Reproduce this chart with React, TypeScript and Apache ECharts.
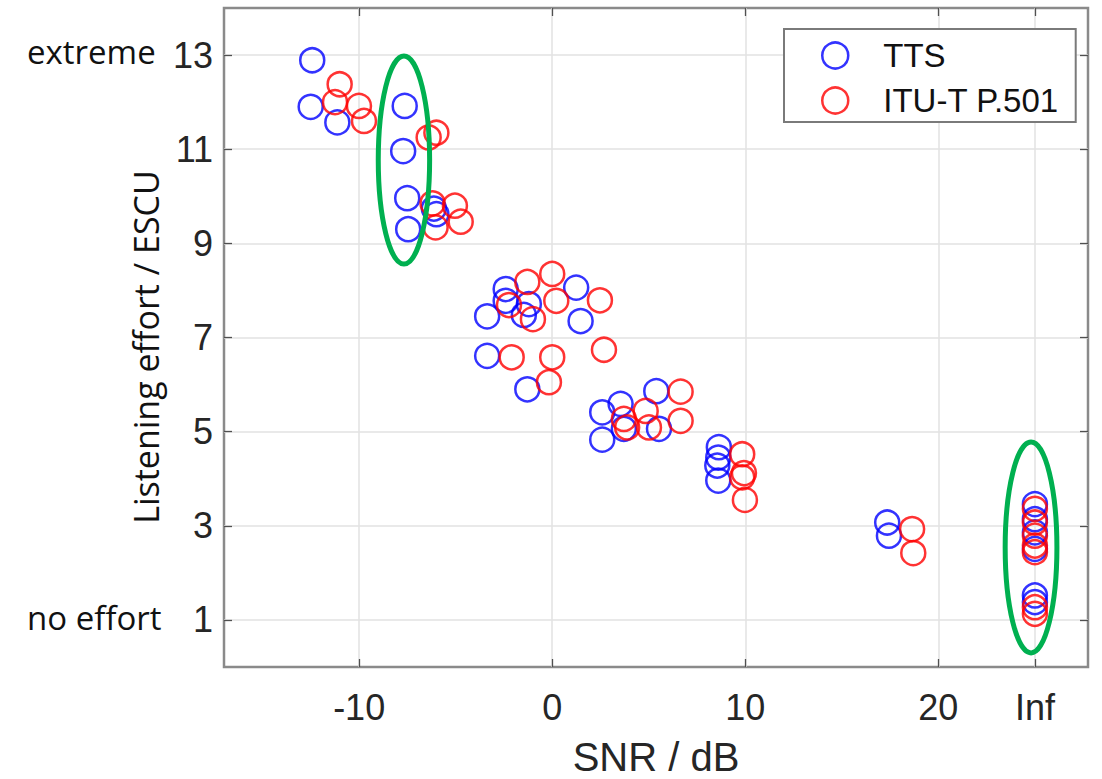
import React, { useEffect, useRef } from 'react';
import * as echarts from 'echarts';

// ---- data ----
const seriesNames = ['TTS', 'ITU-T P.501'];

const ttsSnr = [
  -12.43, -12.51, -11.13, -7.64, -7.72, -7.51, -7.46, -6.13, -6.0,
  -2.41, -3.37, -1.21, -1.47, -2.41, 1.24, 1.47, -3.37, -1.29,
  2.59, 3.54, 5.39, 2.59, 3.71, 5.53,
  8.63, 8.6, 8.55, 8.6,
  17.35, 17.44,
  25, 25, 25, 25, 25, 25,
];
const ttsEffort = [
  12.89, 11.9, 11.57, 11.92, 10.96, 9.96, 9.3, 9.74, 9.62,
  8.03, 7.45, 7.71, 7.48, 7.78, 8.06, 7.35, 6.61, 5.9,
  5.41, 5.59, 5.86, 4.83, 5.06, 5.06,
  4.67, 4.45, 4.28, 3.96,
  3.07, 2.79,
  3.46, 3.14, 2.86, 2.51, 1.52, 1.38,
];

const p501Snr = [
  -11.01, -11.25, -10.01, -9.75, -6.4, -6.0, -6.2, -5.04, -6.04, -4.74,
  -1.29, 0.0, -2.24, -1.0, 0.21, 2.47, -2.1, 0.0, -0.17, 2.68,
  3.71, 4.84, 6.65, 3.88, 5.01, 6.65,
  9.84, 9.93, 9.84, 9.98,
  18.64, 18.7,
  25, 25, 25, 25, 25, 25, 25,
];
const p501Effort = [
  12.38, 12.0, 11.92, 11.6, 11.25, 11.35, 9.85, 9.8, 9.34, 9.46,
  8.18, 8.35, 7.69, 7.39, 7.78, 7.79, 6.58, 6.58, 6.05, 6.74,
  5.27, 5.44, 5.85, 5.09, 5.09, 5.23,
  4.52, 4.12, 4.03, 3.55,
  2.93, 2.42,
  3.36, 3.07, 2.79, 2.58, 2.44, 1.27, 1.13,
];

const xTickValues = [-10, 0, 10, 20, 25];
const xTickLabels = ['-10', '0', '10', '20', 'Inf'];
const yTickValues = [1, 3, 5, 7, 9, 11, 13];

// highlight ellipses (centre and half-axes in data units)
const ellipseSnr = [-7.68, 24.8];
const ellipseEffort = [10.77, 2.54];
const ellipseHalfWidth = [1.33, 1.34];
const ellipseHalfHeight = [2.21, 2.24];

const scaleLabels = ['extreme', 'no effort'];
const yTitle = 'Listening effort / ESCU';

const X_MIN = -17;
const X_MAX = 27.75;
const Y_MIN = 0;
const Y_MAX = 14;

export default function App() {
  const ref = useRef<HTMLDivElement>(null);

  useEffect(() => {
    if (!ref.current) return;
    const chart = echarts.init(ref.current, null, { renderer: 'svg' });

    const tickFont = 'Liberation Sans, Arial, Helvetica, sans-serif';
    const labelFont = 'Open Sans, Noto Sans, sans-serif';
    const textColor = '#262626';
    const tickStyle = { color: '#505050', width: 1.3 };

    const option: any = {
      animation: false,
      backgroundColor: '#ffffff',
      grid: {
        left: 224,
        right: 14,
        top: 8,
        bottom: 112,
        show: true,
        outerBoundsMode: 'none',
        containLabel: false,
        borderColor: '#8a8a8a',
        borderWidth: 2.5,
        backgroundColor: 'transparent',
      },
      legend: {
        orient: 'vertical',
        left: 784,
        top: 29,
        padding: [10, 17, 5, 37],
        itemWidth: 26,
        itemHeight: 26,
        itemGap: 12,
        borderColor: '#7a7a7a',
        borderWidth: 2,
        backgroundColor: '#ffffff',
        textStyle: {
          fontFamily: tickFont,
          fontSize: 33,
          color: '#111111',
          padding: [0, 0, 0, 30],
        },
        data: [
          {
            name: seriesNames[0],
            icon: 'circle',
            itemStyle: { color: 'transparent', borderColor: '#0000ff', borderWidth: 2.5 },
          },
          {
            name: seriesNames[1],
            icon: 'circle',
            itemStyle: { color: 'transparent', borderColor: '#ff0000', borderWidth: 2.5 },
          },
        ],
      },
      xAxis: [
        {
          type: 'value',
          min: X_MIN,
          max: X_MAX,
          name: 'SNR / dB',
          nameLocation: 'middle',
          nameGap: 70,
          nameTextStyle: { fontFamily: tickFont, fontSize: 40, color: textColor },
          axisLine: { show: false, onZero: false },
          axisTick: {
            show: true,
            inside: true,
            length: 8,
            customValues: xTickValues,
            lineStyle: tickStyle,
          },
          axisLabel: {
            show: true,
            customValues: xTickValues,
            margin: 22,
            fontFamily: tickFont,
            fontSize: 36,
            color: textColor,
            formatter: (v: number) => {
              const i = xTickValues.indexOf(v);
              return i >= 0 ? xTickLabels[i] : '';
            },
          },
          splitLine: { show: true, lineStyle: { color: '#e2e2e2', width: 1.5 } },
        },
        {
          type: 'value',
          position: 'top',
          min: X_MIN,
          max: X_MAX,
          axisLine: { show: false, onZero: false },
          axisTick: {
            show: true,
            inside: true,
            length: 8,
            customValues: xTickValues,
            lineStyle: tickStyle,
          },
          axisLabel: { show: false },
          splitLine: { show: false },
        },
      ],
      yAxis: [
        {
          type: 'value',
          min: Y_MIN,
          max: Y_MAX,
          axisLine: { show: false, onZero: false },
          axisTick: {
            show: true,
            inside: true,
            length: 8,
            customValues: yTickValues,
            lineStyle: tickStyle,
          },
          axisLabel: {
            show: true,
            customValues: yTickValues,
            margin: 11,
            fontFamily: tickFont,
            fontSize: 36,
            color: textColor,
          },
          splitLine: { show: true, lineStyle: { color: '#e2e2e2', width: 1.5 } },
        },
        {
          type: 'value',
          position: 'right',
          min: Y_MIN,
          max: Y_MAX,
          axisLine: { show: false, onZero: false },
          axisTick: {
            show: true,
            inside: true,
            length: 8,
            customValues: yTickValues,
            lineStyle: tickStyle,
          },
          axisLabel: { show: false },
          splitLine: { show: false },
        },
      ],
      graphic: [
        {
          type: 'text',
          left: 27,
          top: 35,
          style: {
            text: scaleLabels[0],
            fontFamily: labelFont,
            fontSize: 33,
            fill: '#111111',
          },
        },
        {
          type: 'text',
          left: 27,
          top: 601,
          style: {
            text: scaleLabels[1],
            fontFamily: labelFont,
            fontSize: 33,
            fill: '#111111',
          },
        },
        {
          type: 'text',
          x: 146,
          y: 347,
          rotation: Math.PI / 2,
          style: {
            text: yTitle,
            fontFamily: labelFont,
            fontSize: 34,
            fill: '#111111',
            align: 'center',
            verticalAlign: 'middle',
          },
        },
      ],
      series: [
        {
          name: seriesNames[0],
          type: 'scatter',
          xAxisIndex: 0,
          yAxisIndex: 0,
          symbol: 'circle',
          symbolSize: 24,
          itemStyle: { color: 'transparent', borderColor: '#0000ff', borderWidth: 2.5 },
          data: ttsSnr.map((x, i) => [x, ttsEffort[i]]),
          z: 2,
        },
        {
          name: seriesNames[1],
          type: 'scatter',
          xAxisIndex: 0,
          yAxisIndex: 0,
          symbol: 'circle',
          symbolSize: 24,
          itemStyle: { color: 'transparent', borderColor: '#ff0000', borderWidth: 2.5 },
          data: p501Snr.map((x, i) => [x, p501Effort[i]]),
          z: 2,
        },
        {
          name: 'highlight',
          type: 'custom',
          xAxisIndex: 0,
          yAxisIndex: 0,
          silent: true,
          z: 3,
          encode: { x: 0, y: 1 },
          data: ellipseSnr.map((x, i) => [x, ellipseEffort[i], ellipseHalfWidth[i], ellipseHalfHeight[i]]),
          renderItem: (_params: any, api: any) => {
            const c = api.coord([api.value(0), api.value(1)]);
            const s = api.size([api.value(2), api.value(3)]);
            return {
              type: 'ellipse',
              shape: { cx: c[0], cy: c[1], rx: s[0], ry: s[1] },
              style: { fill: 'none', stroke: '#00b050', lineWidth: 5 },
            };
          },
        },
      ],
    };

    chart.setOption(option);
    return () => chart.dispose();
  }, []);

  return (
    <div
      ref={ref}
      style={{ position: 'absolute', left: 0, top: 0, width: 1102, height: 779, background: '#fff' }}
    />
  );
}
